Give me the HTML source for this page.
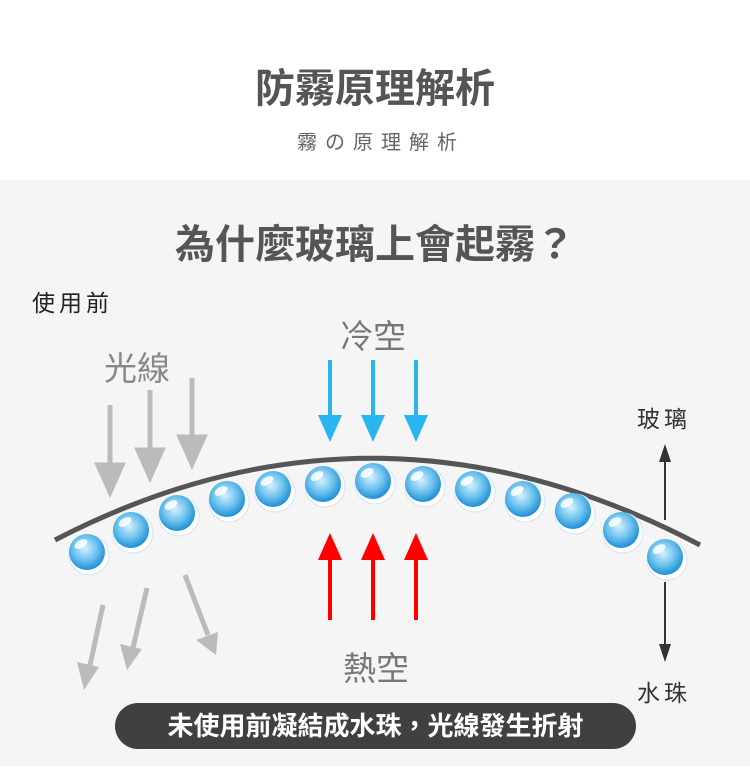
<!DOCTYPE html>
<html><head><meta charset="utf-8"><style>
body{margin:0;width:750px;height:783px;background:#fff;position:relative;overflow:hidden;font-family:"Liberation Sans","Noto Sans CJK TC",sans-serif}
.t{position:absolute;white-space:nowrap}
</style></head><body>
<div class="t" style="left:0;width:750px;text-align:center;top:56px;font-size:40px;font-weight:bold;color:#555">防霧原理解析</div>
<div class="t" style="left:6px;width:750px;text-align:center;top:126px;font-size:20px;color:#666;letter-spacing:8px">霧の原理解析</div>
<div style="position:absolute;left:0;top:180px;width:750px;height:586px;background:#f5f5f5"></div>
<div class="t" style="left:0;width:750px;text-align:center;top:212px;font-size:40px;font-weight:bold;color:#555">為什麼玻璃上會起霧？</div>
<div class="t" style="left:32px;top:284px;font-size:23px;color:#222;letter-spacing:4px">使用前</div>
<div class="t" style="left:104px;top:342px;font-size:33px;color:#888">光線</div>
<div class="t" style="left:340px;top:310px;font-size:33px;color:#777">冷空</div>
<div class="t" style="left:343px;top:642px;font-size:33px;color:#777">熱空</div>
<div class="t" style="left:637px;top:400px;font-size:23px;color:#333;letter-spacing:4px">玻璃</div>
<div class="t" style="left:637px;top:674px;font-size:23px;color:#333;letter-spacing:4px">水珠</div>
<svg style="position:absolute;left:0;top:0" width="750" height="783">
<defs>
<radialGradient id="d" cx="45%" cy="40%" r="60%"><stop offset="0" stop-color="#d6f0ff"/><stop offset="0.55" stop-color="#6ec3ee"/><stop offset="1" stop-color="#1d8ed6"/></radialGradient>
<g id="g"><circle cx="2" cy="3" r="20" fill="#fff" stroke="#cfe6f5" stroke-width="1"/><circle r="18" fill="url(#d)"/><ellipse cx="-6" cy="-8" rx="7" ry="4" fill="#fff" opacity="0.85" transform="rotate(-30 -6 -8)"/></g>
</defs>
<path d="M55,540 Q375,374 700,545" fill="none" stroke="#555" stroke-width="5"/>
<g stroke="#bbb" stroke-width="5" fill="#bbb">
<line x1="110" y1="405" x2="110" y2="475"/><polygon points="98,465 122,465 110,492"/>
<line x1="150" y1="390" x2="150" y2="460"/><polygon points="138,450 162,450 150,477"/>
<line x1="192" y1="378" x2="192" y2="447"/><polygon points="180,437 204,437 192,464"/>
<line x1="103" y1="605" x2="89" y2="670"/><polygon points="77,662 99,667 84,690" stroke="none"/>
<line x1="147" y1="588" x2="132" y2="652"/><polygon points="120,644 142,649 127,670" stroke="none"/>
<line x1="185" y1="575" x2="208" y2="635"/><polygon points="196,640 218,632 216,655" stroke="none"/>
</g>
<g stroke="#29b6f0" stroke-width="4" fill="#29b6f0">
<line x1="330" y1="360" x2="330" y2="425"/><polygon points="318,415 342,415 330,442" stroke="none"/>
<line x1="373" y1="360" x2="373" y2="425"/><polygon points="361,415 385,415 373,442" stroke="none"/>
<line x1="416" y1="360" x2="416" y2="425"/><polygon points="404,415 428,415 416,442" stroke="none"/>
</g>
<g stroke="#f00" stroke-width="4" fill="#f00">
<line x1="330" y1="620" x2="330" y2="550"/><polygon points="318,560 342,560 330,533" stroke="none"/>
<line x1="373" y1="620" x2="373" y2="550"/><polygon points="361,560 385,560 373,533" stroke="none"/>
<line x1="416" y1="620" x2="416" y2="550"/><polygon points="404,560 428,560 416,533" stroke="none"/>
</g>
<g stroke="#333" stroke-width="2" fill="#333">
<line x1="665" y1="455" x2="665" y2="520"/><polygon points="659,462 671,462 665,444" stroke="none"/>
<line x1="665" y1="582" x2="665" y2="650"/><polygon points="659,644 671,644 665,662" stroke="none"/>
</g>
<use href="#g" x="87" y="552"/><use href="#g" x="131" y="530"/><use href="#g" x="177" y="513"/><use href="#g" x="227" y="499"/><use href="#g" x="273" y="489"/><use href="#g" x="323" y="484"/><use href="#g" x="373" y="481"/><use href="#g" x="423" y="484"/><use href="#g" x="473" y="489"/><use href="#g" x="523" y="499"/><use href="#g" x="573" y="511"/><use href="#g" x="621" y="530"/><use href="#g" x="665" y="557"/>
</svg>
<div style="position:absolute;left:115px;top:703px;width:521px;height:46px;border-radius:23px;background:#404040;color:#fff;font-size:26px;font-weight:bold;text-align:center;line-height:46px">未使用前凝結成水珠，光線發生折射</div>
</body></html>
